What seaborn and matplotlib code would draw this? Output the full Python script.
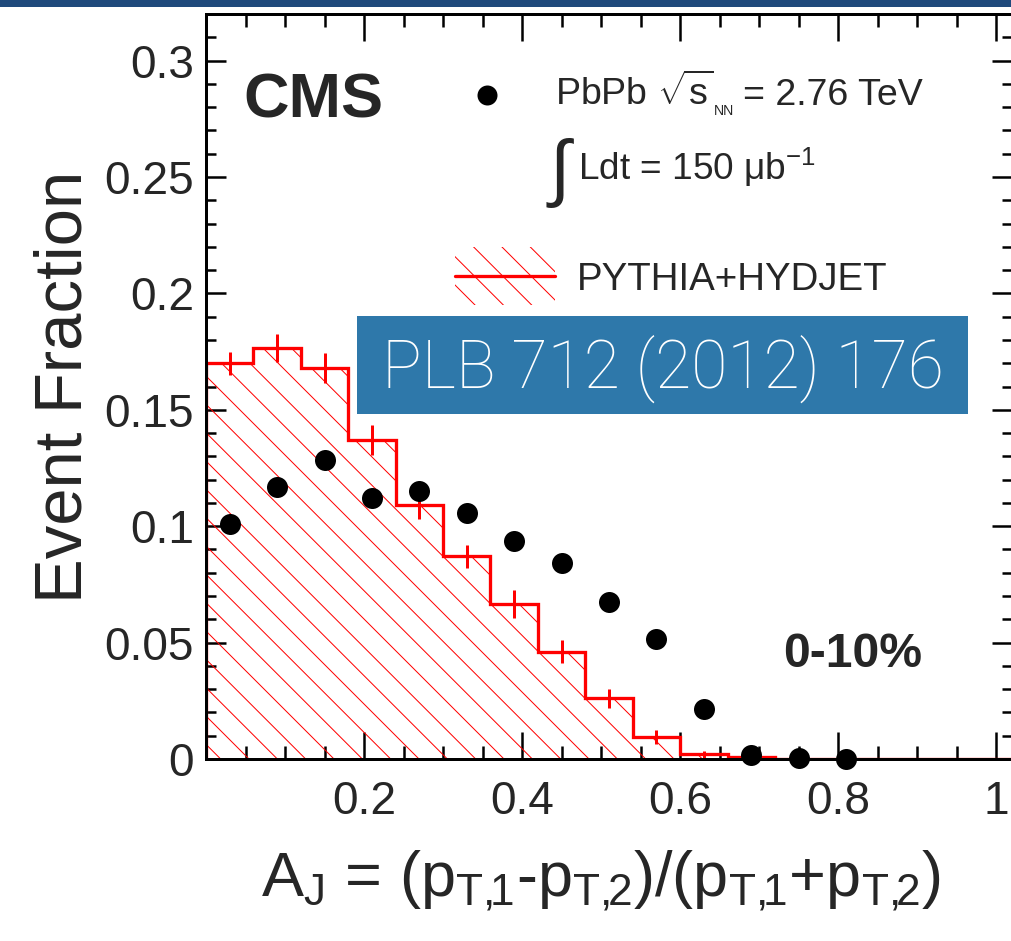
import numpy as np
import matplotlib
matplotlib.use("Agg")
import matplotlib.pyplot as plt
import seaborn as sns
from matplotlib.patches import Rectangle
from matplotlib.lines import Line2D
from matplotlib.ticker import FixedLocator, MultipleLocator

# data (0-10% central PbPb)
bin_edges = [0.0, 0.06, 0.12, 0.18, 0.24, 0.30, 0.36, 0.42, 0.48, 0.54,
             0.60, 0.66, 0.72, 0.78, 0.84, 0.90, 0.96, 1.02]
mc_frac = [0.170, 0.1765, 0.168, 0.137, 0.109, 0.087, 0.0666, 0.0461, 0.0261,
           0.0093, 0.0021, 0.0010, 0.0, 0.0, 0.0, 0.0, 0.0]
mc_err = [0.005, 0.006, 0.0066, 0.0064, 0.006, 0.005, 0.006, 0.005, 0.004,
          0.003, 0.0015, 0.001, 0.0, 0.0, 0.0, 0.0, 0.0]
mc_centers = [0.03, 0.09, 0.15, 0.21, 0.27, 0.33, 0.39, 0.45, 0.51,
              0.57, 0.63, 0.69, 0.75, 0.81, 0.87, 0.93, 0.99]

aj_centers = [0.03, 0.09, 0.15, 0.21, 0.27, 0.33, 0.39, 0.45, 0.51,
              0.57, 0.63, 0.69, 0.75, 0.81]
data_frac = [0.101, 0.117, 0.1285, 0.112, 0.115, 0.1055, 0.0935, 0.084,
             0.0675, 0.0515, 0.0215, 0.0017, 0.0003, 0.0]

xtick_vals = [0.0, 0.2, 0.4, 0.6, 0.8, 1.0]
xtick_labels = ["", "0.2", "0.4", "0.6", "0.8", "1"]
ytick_vals = [0.0, 0.05, 0.10, 0.15, 0.20, 0.25, 0.30]
ytick_labels = ["0", "0.05", "0.1", "0.15", "0.2", "0.25", "0.3"]

DPI = 170
PT = 72.0 / DPI  # pixels -> points

sns.set_style("ticks")
plt.rcParams["font.family"] = ["Liberation Sans", "DejaVu Sans"]
plt.rcParams["mathtext.fontset"] = "custom"
plt.rcParams["mathtext.rm"] = "Liberation Sans"
plt.rcParams["mathtext.it"] = "Liberation Sans:italic"
plt.rcParams["mathtext.bf"] = "Liberation Sans:bold"
plt.rcParams["hatch.linewidth"] = 1.0 * PT

fig = plt.figure(figsize=(1011 / DPI, 941 / DPI), dpi=DPI)
ax = fig.add_axes([206 / 1011, 182 / 941, 806 / 1011, 745 / 941])

# top banner strip
fig.patches.append(Rectangle((0, 1 - 7 / 941), 1, 7 / 941, transform=fig.transFigure,
                             facecolor="#1f4a7c", edgecolor="none"))

# PYTHIA+HYDJET histogram
ax.stairs(mc_frac, bin_edges, fill=True, hatch="\\\\", facecolor="none",
          edgecolor="red", linewidth=0, zorder=1)
ax.stairs(mc_frac, bin_edges, color="red", linewidth=3.3 * PT, zorder=2)
ax.errorbar(mc_centers, mc_frac, yerr=mc_err, fmt="none", ecolor="red",
            elinewidth=3.0 * PT, capsize=0, zorder=2)

# data points
sns.scatterplot(x=aj_centers, y=data_frac, ax=ax, color="black", s=(21 * PT) ** 2,
                linewidth=0, clip_on=False, zorder=5)

ax.set_xlim(0, 1.02)
ax.set_ylim(0, 0.32)

ax.xaxis.set_major_locator(FixedLocator(xtick_vals))
ax.set_xticklabels(xtick_labels)
ax.xaxis.set_minor_locator(MultipleLocator(0.05))
ax.yaxis.set_major_locator(FixedLocator(ytick_vals))
ax.set_yticklabels(ytick_labels)
ax.yaxis.set_minor_locator(MultipleLocator(0.01))

ax.tick_params(axis="both", which="both", direction="in", top=True, right=True,
               width=2.5 * PT, color="black")
ax.tick_params(axis="x", which="major", length=27 * PT, pad=21 * PT, labelsize=46 * PT)
ax.tick_params(axis="x", which="minor", length=13 * PT)
ax.tick_params(axis="y", which="major", length=20 * PT, pad=12 * PT, labelsize=46 * PT)
ax.tick_params(axis="y", which="minor", length=10 * PT)
for sp in ax.spines.values():
    sp.set_linewidth(3 * PT)
    sp.set_color("black")
ax.spines["right"].set_visible(False)

ax.set_xlabel(r"A$_{\rm J}$ = (p$_{\rm T,\!\!1}$-p$_{\rm T,\!\!2}$)/(p$_{\rm T,\!\!1}$+p$_{\rm T,\!\!2}$)",
              fontsize=63 * PT)
ax.set_ylabel("Event Fraction", fontsize=67 * PT)
ax.xaxis.set_label_coords(0.49, -0.121)
ax.yaxis.set_label_coords(-0.137, 0.5)

# annotations
ax.text(0.047, 0.2755, "CMS", fontsize=63 * PT, fontweight="bold", va="baseline")
ax.text(0.7304, 0.0395, "0-10%", fontsize=48 * PT, fontweight="bold", va="baseline")

ax.plot([0.3557], [0.2853], "o", color="black", markersize=20 * PT, markeredgewidth=0)
t1 = ax.text(0.4418, 0.281, r"PbPb $\sqrt{\rm s}$", fontsize=37.5 * PT, va="baseline")
t2 = ax.annotate("NN", xy=(1, 0.281), xycoords=(t1, "data"), xytext=(0, -10 * PT),
                 textcoords="offset points", fontsize=14 * PT, va="baseline")
ax.annotate("= 2.76 TeV", xy=(1, 0.281), xycoords=(t2, "data"), xytext=(9 * PT, 0),
            textcoords="offset points", fontsize=37.5 * PT, va="baseline")
ax.text(0.447, 0.2516, "\u222b", fontsize=74 * PT, va="center", ha="center")
ax.text(0.4709, 0.2488, "Ldt = 150 \u03bcb$^{-1}$", fontsize=37 * PT, va="baseline")

ax.add_patch(Rectangle((0.3152, 0.1951), 0.1266, 0.0249, hatch="\\\\", facecolor="none",
                       edgecolor="red", linewidth=0, zorder=3))
ax.add_line(Line2D([0.3152, 0.4418], [0.2076, 0.2076], color="red",
                   linewidth=3.3 * PT, zorder=3))
ax.text(0.4696, 0.2015, "PYTHIA+HYDJET", fontsize=38.5 * PT, va="baseline")

# journal reference box
ax.add_patch(Rectangle((0.1911, 0.1483), 0.7735, 0.0421, facecolor="#2e78aa",
                       edgecolor="none", zorder=6))
ax.text(0.578, 0.1594, "PLB 712 (2012) 176", fontsize=66 * PT, color="white",
        family=["Roboto", "Liberation Sans"], fontweight="light", ha="center",
        va="baseline", zorder=7)

fig.savefig("out.png", dpi=DPI)
